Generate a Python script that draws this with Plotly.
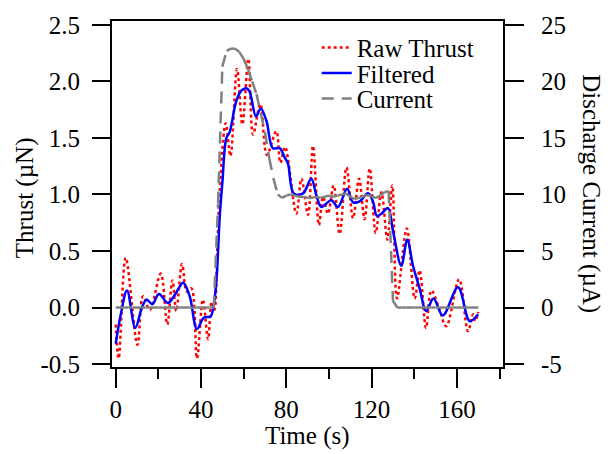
import plotly.graph_objects as go

# ---------------- data ----------------
raw_time = [0, 1.4, 4.7, 10.2, 12.8, 16.0, 21.1, 24.2, 26.6, 28.4, 31.1, 33.4, 35.5, 38.1,
            40.9, 43.3, 45.0, 46.3, 47.5, 48.8, 51.6, 53.8, 56.9, 59.4, 62.2, 64.4, 67.8,
            70.9, 75.3, 77.2, 79.4, 84.7, 87.1, 90.2, 92.5, 95.3, 97.2, 99.5, 102.2, 105.0,
            108.2, 111.3, 114.1, 116.7, 119.1, 121.9, 124.6, 127.4, 129.7, 131.9, 136.5,
            140.2, 142.5, 145.5, 148.0, 151.5, 155.0, 161.0, 165.2, 167.6, 168.6, 170.0]
raw_thrust = [-0.15, -0.45, 0.44, -0.33, 0.10, -0.02, 0.30, -0.15, 0.24, -0.03, 0.385, 0.14,
              0.17, -0.45, 0.07, -0.28, 0.05, -0.02, 0.45, 1.04, 1.63, 1.34, 2.11, 1.62, 2.20,
              1.53, 1.80, 1.35, 1.56, 1.28, 1.42, 0.83, 1.14, 0.82, 1.43, 0.73, 0.98, 0.83,
              1.08, 0.65, 1.24, 0.79, 1.14, 0.78, 1.23, 0.66, 1.02, 0.60, 1.08, 0.08, 0.70,
              0.08, 0.33, -0.18, 0.15, 0.00, -0.165, 0.25, -0.21, -0.06, -0.12, -0.04]

filt_time = [0, 2.5, 5.3, 9.2, 12.0, 14.4, 17.2, 20.3, 24.5, 28.0, 31.6, 34.7, 38.1, 41.3,
             44.5, 45.6, 47.2, 48.8, 50.0, 51.9, 53.4, 56.6, 59.0, 61.3, 62.8, 65.8, 68.0,
             70.7, 73.7, 76.9, 79.2, 80.8, 83.5, 87.8, 91.7, 94.0, 96.4, 101.1, 104.2, 108.5,
             111.3, 114.4, 118.3, 120.6, 122.5, 124.6, 127.7, 130.0, 133.9, 136.7, 139.4,
             142.5, 145.6, 149.0, 153.4, 160.5, 166.0, 169.9]
filt_thrust = [-0.32, -0.05, 0.15, -0.18, -0.02, 0.07, 0.03, 0.12, 0.04, 0.12, 0.22, 0.10,
               -0.19, -0.09, -0.08, -0.02, 0.23, 0.81, 1.10, 1.50, 1.55, 1.83, 1.92, 1.94,
               1.91, 1.69, 1.76, 1.65, 1.41, 1.41, 1.33, 1.27, 1.01, 1.01, 1.14, 1.00, 0.89,
               0.95, 0.89, 1.05, 0.93, 0.94, 1.01, 0.94, 0.81, 0.83, 0.88, 0.68, 0.37, 0.60,
               0.37, 0.17, -0.03, 0.08, -0.07, 0.18, -0.12, -0.06]

cur_time = list(range(0, 171, 2))
cur_uA = ([0.0] * 23 +
          [0.0, 9.2, 21.3, 22.7, 22.9, 22.9, 22.6, 22.0, 21.1, 20.0, 18.9, 17.2, 15.5, 13.2,
           11.4, 10.0, 9.7, 9.9, 10.0, 9.9, 9.8, 9.8, 9.7, 9.7, 9.8, 9.7, 9.8, 9.9, 9.8, 9.9,
           10.0, 10.1, 9.8, 9.6, 9.7, 9.8, 10.0, 9.8, 9.7, 9.9, 10.2, 10.3, 0.6, 0.0] +
          [0.0] * 19)

x_ticks = [0, 40, 80, 120, 160]
y_ticks = [-0.5, 0.0, 0.5, 1.0, 1.5, 2.0, 2.5]
y_labels = ["-0.5", "0.0", "0.5", "1.0", "1.5", "2.0", "2.5"]
y2_ticks = [-5, 0, 5, 10, 15, 20, 25]
y2_labels = ["-5", "0", "5", "10", "15", "20", "25"]

FONT = "Liberation Serif"
FS = 25

# current drawn segment by segment (dash pattern restarts at each point, as in the original)
seg_x, seg_y = [], []
for i in range(len(cur_time) - 1):
    seg_x += [cur_time[i], cur_time[i + 1], None]
    seg_y += [cur_uA[i], cur_uA[i + 1], None]

fig = go.Figure()
fig.add_trace(go.Scatter(x=raw_time, y=raw_thrust, mode="lines", name="Raw Thrust",
                         line=dict(color="#ff0000", width=2.5, dash="dot", shape="spline"),
                         legend="legend", showlegend=True))
fig.add_trace(go.Scatter(x=filt_time, y=filt_thrust, mode="lines", name="Filtered",
                         line=dict(color="#0000ff", width=2.5, shape="spline"),
                         legend="legend2", showlegend=True))
fig.add_trace(go.Scatter(x=seg_x, y=seg_y, mode="lines", name="Current", yaxis="y2",
                         connectgaps=False,
                         line=dict(color="#808080", width=2.5, dash="12px,8px"),
                         legend="legend3", showlegend=True))

ylo, yhi = -0.5 - 3 / 115, 2.5 + 4 / 115

axis_common = dict(showgrid=False, zeroline=False, showline=True, linecolor="black",
                   linewidth=2, ticks="outside", tickwidth=2, tickcolor="black",
                   tickfont=dict(family=FONT, size=FS, color="black"))

leg_common = dict(x=0.5235, xanchor="left", yanchor="middle",
                  bgcolor="rgba(0,0,0,0)", font=dict(family=FONT, size=FS, color="black"))

fig.update_layout(
    width=614, height=454,
    margin=dict(l=112, r=111, t=15, b=87),
    paper_bgcolor="white", plot_bgcolor="white",
    font=dict(family=FONT, size=FS, color="black"),
    hovermode=False,
    showlegend=True,
    xaxis=dict(range=[-1.73, 181.6], tickvals=x_ticks, ticklen=19, mirror=True,
               minor=dict(tick0=0, dtick=20, ticklen=10, tickwidth=2, ticks="outside",
                          tickcolor="black"),
               **axis_common),
    yaxis=dict(range=[ylo, yhi], tickvals=y_ticks, ticktext=y_labels, ticklen=18,
               ticklabelstandoff=7, **axis_common),
    yaxis2=dict(range=[ylo * 10, yhi * 10], tickvals=y2_ticks, ticktext=y2_labels,
                ticklen=19, overlaying="y", side="right", ticklabelstandoff=12,
                **axis_common),
    legend=dict(y=0.923, **leg_common),
    legend2=dict(y=0.849, **leg_common),
    legend3=dict(y=0.775, **leg_common),
    annotations=[
        dict(text="Time (s)", xref="paper", yref="paper", x=0.5, y=-0.199,
             xanchor="center", yanchor="middle", showarrow=False,
             font=dict(family=FONT, size=FS)),
        dict(text="Thrust (µN)", xref="paper", yref="paper", x=-0.2207, y=0.49,
             xanchor="center", yanchor="middle", showarrow=False, textangle=-90,
             font=dict(family=FONT, size=FS)),
        dict(text="Discharge Current (µA)", xref="paper", yref="paper", x=1.2243, y=0.5,
             xanchor="center", yanchor="middle", showarrow=False, textangle=90,
             font=dict(family=FONT, size=FS)),
    ],
)

fig.write_html("out.html")
